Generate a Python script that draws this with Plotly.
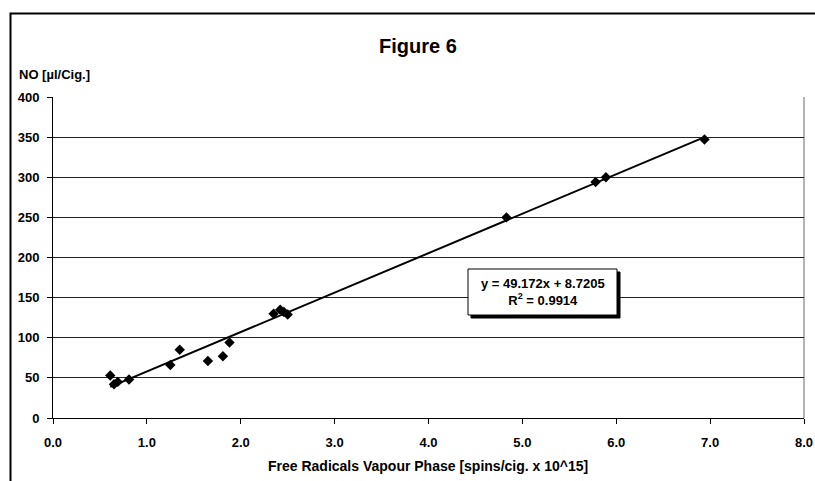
import plotly.graph_objects as go

# Data
free_radicals = [0.61, 0.65, 0.69, 0.81, 1.25, 1.35, 1.65, 1.81, 1.88,
                 2.35, 2.42, 2.46, 2.50, 4.83, 5.78, 5.89, 6.94]
no_values = [53, 42, 45, 48, 66, 85, 71, 77, 94,
             130, 135, 132, 129, 250, 294, 300, 347]
slope = 49.172
intercept = 8.7205
r_squared = 0.9914
x_ticks = [0, 1, 2, 3, 4, 5, 6, 7, 8]
y_ticks = [0, 50, 100, 150, 200, 250, 300, 350, 400]

FONT = "Liberation Sans, Arial, sans-serif"

# geometry helpers (pixel -> paper)
L, R, T, B = 53, 804, 97, 418
W, H = 815, 481
def px(x):
    return (x - L) / (R - L)
def py(y):
    return (B - y) / (B - T)

x_min, x_max = min(free_radicals), max(free_radicals)
trend_x = [x_min, x_max]
trend_y = [slope * v + intercept for v in trend_x]

fig = go.Figure()
fig.add_trace(go.Scatter(x=trend_x, y=trend_y, mode="lines",
                         line=dict(color="black", width=2),
                         hoverinfo="skip", showlegend=False))
fig.add_trace(go.Scatter(x=free_radicals, y=no_values, mode="markers",
                         marker=dict(symbol="diamond", size=8, color="black"),
                         showlegend=False, cliponaxis=False))

shapes = [
    # outer chart frame
    dict(type="rect", xref="paper", yref="paper",
         x0=px(10.5), x1=px(840), y0=py(520), y1=py(13.5),
         line=dict(color="black", width=2), layer="below"),
    # plot area right border
    dict(type="line", xref="paper", yref="paper",
         x0=1, x1=1, y0=0, y1=1,
         line=dict(color="#b4b4b4", width=2), layer="below"),
    # equation box shadow
    dict(type="rect", xref="paper", yref="paper",
         x0=px(471), x1=px(620), y0=py(318), y1=py(272),
         fillcolor="black", line=dict(color="black", width=1), layer="above"),
    # equation box
    dict(type="rect", xref="paper", yref="paper",
         x0=px(468), x1=px(617), y0=py(315), y1=py(269),
         fillcolor="white", line=dict(color="black", width=1), layer="above"),
]

annotations = [
    dict(text="<b>Figure 6</b>", xref="paper", yref="paper",
         x=px(418), y=py(46), xanchor="center", yanchor="middle",
         showarrow=False, font=dict(family=FONT, size=20, color="black")),
    dict(text="<b>NO [µl/Cig.]</b>", xref="paper", yref="paper",
         x=px(17), y=py(74), xanchor="left", yanchor="middle",
         showarrow=False, font=dict(family=FONT, size=13, color="black")),
    dict(text="<b>Free Radicals Vapour Phase [spins/cig. x 10^15]</b>",
         xref="paper", yref="paper", x=px(428), y=py(466),
         xanchor="center", yanchor="middle", showarrow=False,
         font=dict(family=FONT, size=14, color="black")),
    dict(text=f"<b>y = {slope}x + {intercept}<br>R<sup>2</sup> = {r_squared}</b>",
         xref="paper", yref="paper", x=px(542.5), y=py(292),
         xanchor="center", yanchor="middle", showarrow=False, align="center",
         font=dict(family=FONT, size=13, color="black")),
]

fig.update_layout(
    width=W, height=H, autosize=False,
    margin=dict(l=L, r=W - R, t=T, b=H - B, pad=0),
    paper_bgcolor="white", plot_bgcolor="white",
    font=dict(family=FONT, size=13, color="black"),
    shapes=shapes, annotations=annotations,
    xaxis=dict(range=[0, 8], tickvals=x_ticks, automargin=False,
               ticktext=[f"{v:.1f}" for v in x_ticks],
               showgrid=False, zeroline=False,
               showline=True, linecolor="black", linewidth=1,
               ticks="outside", ticklen=5, tickcolor="black",
               ticklabelstandoff=7,
               tickfont=dict(family=FONT, size=13, color="black", weight="bold")),
    yaxis=dict(range=[0, 400], tickvals=y_ticks, automargin=False,
               showgrid=True, gridcolor="#222", gridwidth=1, zeroline=False,
               showline=True, linecolor="black", linewidth=1,
               ticks="outside", ticklen=5, tickcolor="black",
               ticklabelstandoff=5,
               tickfont=dict(family=FONT, size=13, color="black", weight="bold")),
)

fig.write_html("out.html",
               config={"displayModeBar": False},
               post_script="document.body.style.margin='0px';document.body.style.overflow='hidden';")
